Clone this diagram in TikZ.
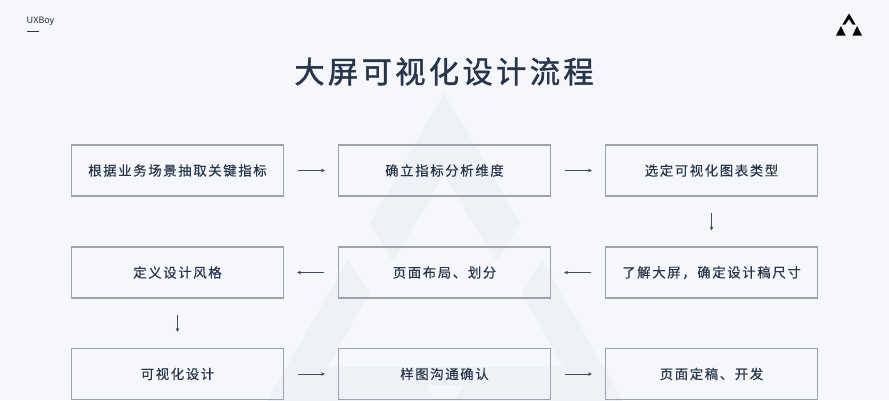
\documentclass[tikz,border=0pt]{standalone}
\usepackage{fontspec}
\usetikzlibrary{arrows.meta}
\setmainfont{Noto Sans CJK SC}
\newfontfamily\titlefont[LetterSpace=11,FakeBold=1.3]{Noto Sans CJK SC}
\newfontfamily\bodyfont[LetterSpace=12,FakeBold=0.3]{Noto Sans CJK SC}
\newfontfamily\brandfont{Noto Sans}
\definecolor{pagebg}{HTML}{F5F7FB}
\definecolor{ghost}{HTML}{EEF1F5}
\definecolor{ink}{HTML}{27364A}
\definecolor{edge}{HTML}{9EA2AA}
\tikzset{
  x=1pt,y=-1pt,
  stepbox/.style={draw=edge,line width=1.2pt,minimum width=212pt,minimum height=51pt,inner sep=0pt,outer sep=0pt,text=ink,font=\bodyfont\fontsize{13.4}{16}\selectfont},
  flow/.style={draw=ink!70!gray,line width=0.7pt,-{Stealth[length=4pt,width=3.6pt]}},
  hgap/.style={shorten <=14.5pt,shorten >=13.5pt},
  vgap/.style={shorten <=16.5pt,shorten >=16.5pt},
  ghostshape/.style={fill=ghost,draw=none},
}
\begin{document}
\begin{tikzpicture}
\useasboundingbox (0,0) rectangle (889,400);
\fill[pagebg] (0,0) rectangle (889,400);
% watermark
\fill[ghostshape] (444,93) -- (520,223) -- (497,262) -- (444,175) -- (393,262) -- (370,223) -- cycle;
\fill[ghostshape] (348,260) -- (370,293) -- (327,367) -- (563,367) -- (522,293) -- (542,260) -- (645,440) -- (245,440) -- cycle;
\fill[pagebg] (426,385) -- (464,385) -- (455,400) -- (435,400) -- cycle;
% brand
\node[inner sep=0pt,text=ink!80!black,font=\brandfont\fontsize{9}{10}\selectfont,anchor=west] (brand) at (26.5,21) {UXBoy};
\coordinate (brandA) at (27,31);
\coordinate (brandB) at (39,31);
\draw[ink,line width=0.9pt] (brandA) -- (brandB);
% logo
\fill[black!90!ink] (849,13.5) -- (855.6,24.5) -- (852.6,24.5) -- (849,19) -- (845.4,24.5) -- (842.4,24.5) -- cycle;
\fill[black!90!ink] (841,26) -- (845.5,35.5) -- (836,35.5) -- cycle;
\fill[black!90!ink] (857,26) -- (862,35.5) -- (852.5,35.5) -- cycle;
% title
\node[inner sep=0pt,text=ink,font=\titlefont\fontsize{30.3}{36}\selectfont] (title) at (444,71.5) {大屏可视化设计流程};
% boxes
\node[stepbox] (a1) at (177.5,170.5) {根据业务场景抽取关键指标};
\node[stepbox] (a2) at (444.5,170.5) {确立指标分析维度};
\node[stepbox] (a3) at (711.5,170.5) {选定可视化图表类型};
\node[stepbox] (b1) at (177.5,272.5) {定义设计风格};
\node[stepbox] (b2) at (444.5,272.5) {页面布局、划分};
\node[stepbox] (b3) at (711.5,272.5) {了解大屏，确定设计稿尺寸};
\node[stepbox] (c1) at (177.5,374) {可视化设计};
\node[stepbox] (c2) at (444.5,374) {样图沟通确认};
\node[stepbox] (c3) at (711.5,374) {页面定稿、开发};
% connectors
\draw[flow,hgap] (a1) -- (a2);
\draw[flow,hgap] (a2) -- (a3);
\draw[flow,vgap] (a3) -- (b3);
\draw[flow,hgap] (b3) -- (b2);
\draw[flow,hgap] (b2) -- (b1);
\draw[flow,vgap] (b1) -- (c1);
\draw[flow,hgap] (c1) -- (c2);
\draw[flow,hgap] (c2) -- (c3);
\end{tikzpicture}
\end{document}
